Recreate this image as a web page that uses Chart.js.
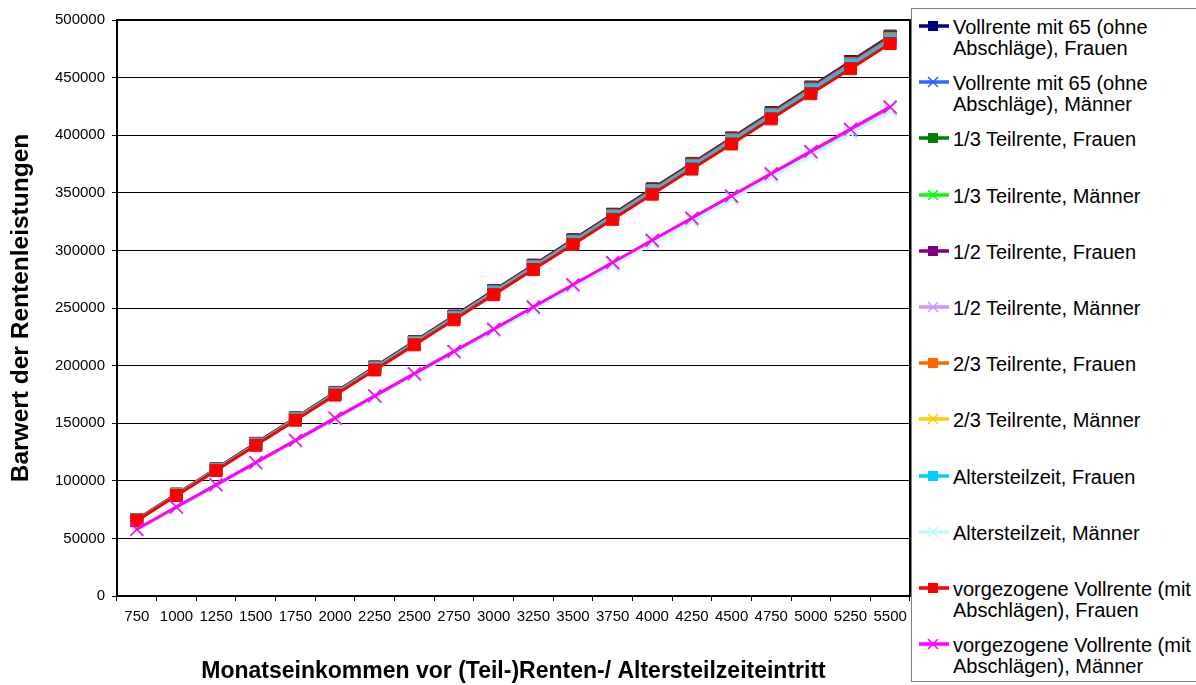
<!DOCTYPE html>
<html>
<head>
<meta charset="utf-8">
<script src="https://cdn.jsdelivr.net/npm/chart.js@4/dist/chart.umd.min.js"></script>
<style>
  html, body { margin: 0; padding: 0; background: #fff; }
  #wrap { position: relative; width: 1196px; height: 685px; overflow: hidden; font-family: "Liberation Sans", Arial, sans-serif; }
  #c { position: absolute; left: 0; top: 0; }
  #legend { position: absolute; left: 911px; top: 8px; width: 320px; height: 674px; border: 1px solid #808080; background: #fff; box-sizing: border-box; }
  .item { position: absolute; left: 0; width: 320px; }
  .item svg { position: absolute; left: 6px; }
  .item .t { position: absolute; left: 41px; font-size: 20px; line-height: 21px; color: #000; white-space: nowrap; }
</style>
</head>
<body>
<div id="wrap">
  <canvas id="c" width="1196" height="685"></canvas>
  <div id="legend"></div>
</div>
<script>
const categories = ["750","1000","1250","1500","1750","2000","2250","2500","2750","3000","3250","3500","3750","4000","4250","4500","4750","5000","5250","5500"];
const yTicks = [0, 50000, 100000, 150000, 200000, 250000, 300000, 350000, 400000, 450000, 500000];

const seriesNames = [
  "Vollrente mit 65 (ohne\nAbschläge), Frauen",
  "Vollrente mit 65 (ohne\nAbschläge), Männer",
  "1/3 Teilrente, Frauen",
  "1/3 Teilrente, Männer",
  "1/2 Teilrente, Frauen",
  "1/2 Teilrente, Männer",
  "2/3 Teilrente, Frauen",
  "2/3 Teilrente, Männer",
  "Altersteilzeit, Frauen",
  "Altersteilzeit, Männer",
  "vorgezogene Vollrente (mit\nAbschlägen), Frauen",
  "vorgezogene Vollrente (mit\nAbschlägen), Männer"
];

const vollrenteFrauen = [66300, 88400, 110500, 132500, 154600, 176700, 198800, 220900, 243000, 265100, 287200, 309300, 331400, 353400, 375500, 397600, 419700, 441800, 463900, 486000];
const vollrenteMaenner = [57800, 77000, 96300, 115500, 134800, 154000, 173300, 192500, 211800, 231000, 250300, 269500, 288800, 308000, 327300, 346500, 365800, 385000, 404300, 423500];
const teil13Frauen = [66200, 88300, 110300, 132400, 154500, 176500, 198600, 220700, 242700, 264800, 286900, 308900, 331000, 353100, 375100, 397200, 419300, 441300, 463400, 485500];
const teil13Maenner = [57800, 77100, 96400, 115700, 134900, 154200, 173500, 192800, 212000, 231300, 250600, 269900, 289100, 308400, 327700, 347000, 366200, 385500, 404800, 424100];
const teil12Frauen = [66100, 88200, 110200, 132300, 154300, 176400, 198400, 220500, 242500, 264500, 286600, 308600, 330700, 352700, 374800, 396800, 418900, 440900, 463000, 485000];
const teil12Maenner = [57800, 77100, 96300, 115600, 134800, 154100, 173400, 192600, 211900, 231200, 250400, 269700, 288900, 308200, 327500, 346700, 366000, 385300, 404500, 423800];
const teil23Frauen = [66000, 88000, 110000, 132000, 154000, 176000, 198000, 220000, 242000, 264000, 286000, 308000, 330000, 352000, 374000, 396000, 418000, 440000, 462000, 484000];
const teil23Maenner = [57900, 77200, 96400, 115700, 135000, 154300, 173600, 192900, 212200, 231500, 250700, 270000, 289300, 308600, 327900, 347200, 366500, 385800, 405000, 424300];
const altersteilzeitFrauen = [65800, 87700, 109700, 131600, 153500, 175500, 197400, 219300, 241300, 263200, 285100, 307100, 329000, 350900, 372900, 394800, 416700, 438700, 460600, 482500];
const altersteilzeitMaenner = [57400, 76500, 95600, 114800, 133900, 153000, 172100, 191300, 210400, 229500, 248600, 267800, 286900, 306000, 325100, 344300, 363400, 382500, 401600, 420800];
const vorgezogenFrauen = [65400, 87200, 109000, 130800, 152600, 174400, 196200, 218000, 239800, 261600, 283400, 305200, 327000, 348800, 370600, 392400, 414200, 436000, 457800, 479600];
const vorgezogenMaenner = [57900, 77200, 96500, 115800, 135100, 154400, 173700, 193000, 212300, 231600, 250900, 270200, 289500, 308800, 328100, 347400, 366700, 386000, 405300, 424600];

const seriesData = [vollrenteFrauen, vollrenteMaenner, teil13Frauen, teil13Maenner, teil12Frauen, teil12Maenner,
  teil23Frauen, teil23Maenner, altersteilzeitFrauen, altersteilzeitMaenner, vorgezogenFrauen, vorgezogenMaenner];
const seriesColors = ["#000080", "#3366FF", "#008000", "#00FF00", "#800080", "#CC99FF",
  "#FF6600", "#FFCC00", "#00CCFF", "#C4F6FF", "#FF0000", "#FF00FF"];

const FONT = "'Liberation Sans', Arial, sans-serif";

const datasets = seriesData.map((d, i) => {
  const women = i % 2 === 0;
  return {
    label: seriesNames[i].replace("\n", " "),
    data: d,
    borderColor: seriesColors[i],
    backgroundColor: seriesColors[i],
    borderWidth: 3,
    tension: 0,
    pointStyle: women ? 'rect' : 'crossRot',
    pointRadius: women ? 8.5 : 9,
    pointBorderWidth: women ? 1 : 1.5,
    pointBorderColor: seriesColors[i],
    pointBackgroundColor: seriesColors[i],
    order: seriesData.length - i
  };
});

const framePlugin = {
  id: 'frame',
  beforeDatasetsDraw(chart) {
    const {ctx, chartArea: a} = chart;
    ctx.save();
    ctx.strokeStyle = '#000';
    ctx.lineWidth = 2;
    ctx.strokeRect(a.left, a.top, a.right - a.left, a.bottom - a.top);
    ctx.restore();
  }
};

new Chart(document.getElementById('c'), {
  type: 'line',
  data: { labels: categories, datasets },
  options: {
    responsive: false,
    animation: false,
    devicePixelRatio: 1,
    layout: { padding: { top: 20, right: 286, left: 0, bottom: 0 }, autoPadding: false },
    plugins: { legend: { display: false }, tooltip: { enabled: false } },
    scales: {
      x: {
        type: 'category',
        offset: true,
        grid: { offset: true, drawOnChartArea: false, drawTicks: true, tickLength: 5, color: '#000', lineWidth: 1 },
        border: { display: true, color: '#000', width: 2 },
        ticks: { color: '#000', font: { family: FONT, size: 15 }, padding: 7, maxRotation: 0, autoSkip: false },
        title: { display: true, text: 'Monatseinkommen vor (Teil-)Renten-/ Altersteilzeiteintritt', color: '#000',
                 font: { family: FONT, size: 23, weight: 'bold' }, padding: { top: 0, bottom: 0 } },
        afterFit(scale) { scale.height = 89; }
      },
      y: {
        min: 0, max: 500000,
        afterBuildTicks(scale) { scale.ticks = yTicks.map(v => ({ value: v })); },
        grid: { color: '#000', lineWidth: 1, drawTicks: true, tickLength: 5 },
        border: { display: true, color: '#000', width: 2 },
        ticks: { color: '#000', font: { family: FONT, size: 15 }, padding: 7, callback: v => String(v) },
        title: { display: true, text: 'Barwert der Rentenleistungen', color: '#000',
                 font: { family: FONT, size: 24.5, weight: 'bold' }, padding: { top: 7, bottom: 0 } },
        afterFit(scale) { scale.width = 117; }
      }
    }
  },
  plugins: [framePlugin]
});

// Legend (Excel style: line with marker, wrapped text)
const legend = document.getElementById('legend');
const firstY = 25, stepY = 56.2;
seriesNames.forEach((name, i) => {
  const women = i % 2 === 0;
  const col = seriesColors[i];
  const cy = firstY + i * stepY - 8; // relative to legend box top (8px)
  const item = document.createElement('div');
  item.className = 'item';
  item.style.top = '0px';
  const marker = women
    ? `<rect x="10" y="3" width="10" height="10" fill="${col}"/>`
    : `<path d="M10 3 L20 13 M20 3 L10 13" stroke="${col}" stroke-width="1.5"/>`;
  item.innerHTML = `<svg width="32" height="16" style="top:${cy - 8}px"><line x1="1" y1="8" x2="31" y2="8" stroke="${col}" stroke-width="3.5"/>${marker}</svg>` +
    `<div class="t" style="top:${cy - 9}px">${name.replace("\n", "<br>")}</div>`;
  legend.appendChild(item);
});
</script>
</body>
</html>
